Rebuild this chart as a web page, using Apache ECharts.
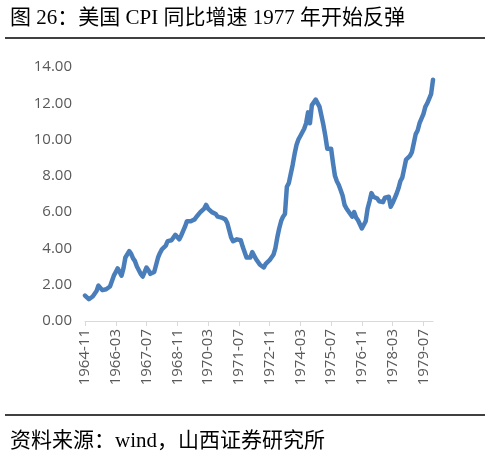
<!DOCTYPE html>
<html>
<head>
<meta charset="utf-8">
<script src="https://cdn.jsdelivr.net/npm/echarts@6/dist/echarts.min.js"></script>
<style>
  html, body { margin: 0; padding: 0; background: #fff; }
  #chart { width: 485px; height: 455px; }
</style>
</head>
<body>
<div id="chart"></div>
<script>
// 月份 1964-11 ~ 1979-12
var months = [];
(function () {
  var y = 1964, m = 11;
  while (y < 1980) {
    months.push(y + '-' + (m < 10 ? '0' + m : m));
    m++;
    if (m > 12) { m = 1; y++; }
  }
})();

// 美国CPI同比(%)，按年份分组，读图估计
var cpi1964 = [1.4, 1.3];
var cpi1965 = [1.2, 1.25, 1.35, 1.5, 1.65, 1.95, 1.85, 1.7, 1.7, 1.75, 1.8, 1.9];
var cpi1966 = [2.0, 2.5, 2.7, 2.9, 2.8, 2.5, 2.9, 3.5, 3.6, 3.85, 3.7, 3.45];
var cpi1967 = [3.3, 3.0, 2.8, 2.6, 2.45, 2.7, 2.95, 2.8, 2.6, 2.65, 2.7, 3.1];
var cpi1968 = [3.5, 3.75, 3.95, 4.0, 4.15, 4.4, 4.5, 4.45, 4.6, 4.75, 4.7, 4.5];
var cpi1969 = [4.7, 4.8, 5.2, 5.5, 5.55, 5.5, 5.45, 5.6, 5.75, 5.8, 6.0, 6.1];
var cpi1970 = [6.2, 6.4, 6.2, 6.1, 6.0, 6.0, 5.9, 5.75, 5.7, 5.7, 5.65, 5.6];
var cpi1971 = [5.4, 5.0, 4.6, 4.4, 4.45, 4.5, 4.5, 4.45, 4.1, 3.8, 3.5, 3.4];
var cpi1972 = [3.5, 3.8, 3.6, 3.4, 3.3, 3.1, 3.0, 2.95, 3.15, 3.2, 3.35, 3.45];
var cpi1973 = [3.65, 4.0, 4.6, 5.1, 5.5, 5.75, 5.9, 7.4, 7.6, 8.1, 8.6, 9.2];
var cpi1974 = [9.7, 10.0, 10.2, 10.2, 10.6, 10.9, 11.5, 10.9, 11.9, 12.0, 12.2, 12.1];
var cpi1975 = [11.8, 11.3, 10.8, 10.2, 9.5, 9.4, 9.5, 8.7, 8.0, 7.7, 7.5, 7.2];
var cpi1976 = [6.9, 6.4, 6.2, 6.1, 5.9, 5.75, 6.0, 5.7, 5.55, 5.5, 5.1, 5.0];
var cpi1977 = [5.5, 6.2, 6.6, 7.05, 6.85, 6.8, 6.75, 6.6, 6.5, 6.55, 6.8, 6.7];
var cpi1978 = [6.85, 6.3, 6.5, 6.6, 7.0, 7.3, 7.7, 7.9, 8.4, 8.9, 9.0, 9.1];
var cpi1979 = [9.3, 9.8, 10.3, 10.5, 10.9, 11.0, 11.4, 11.8, 12.0, 12.1, 12.5, 13.3];

var cpiYoy = [].concat(cpi1964, cpi1965, cpi1966, cpi1967, cpi1968, cpi1969, cpi1970,
  cpi1971, cpi1972, cpi1973, cpi1974, cpi1975, cpi1976, cpi1977, cpi1978, cpi1979);

var yTicks = [0, 2, 4, 6, 8, 10, 12, 14];

var myChart = echarts.init(document.getElementById('chart'));
var cnFont = "'Liberation Serif', 'Noto Sans CJK SC', serif";
var option = {
  animation: false,
  backgroundColor: '#fff',
  title: [{
    text: '图 26：美国 CPI 同比增速 1977 年开始反弹',
    left: 5,
    top: 3,
    textStyle: { fontFamily: cnFont, fontSize: 21, fontWeight: 'normal', color: '#000' }
  }, {
    text: '资料来源：wind，山西证券研究所',
    left: 5,
    top: 426,
    textStyle: { fontFamily: cnFont, fontSize: 21, fontWeight: 'normal', color: '#000' }
  }],
  graphic: [
    { type: 'line', shape: { x1: 5, y1: 38, x2: 485, y2: 38 }, style: { stroke: '#000', lineWidth: 1.5 } },
    { type: 'line', shape: { x1: 5, y1: 415, x2: 485, y2: 415 }, style: { stroke: '#000', lineWidth: 1.5 } }
  ],
  grid: { left: 85, right: 52, top: 67, bottom: 134 },
  xAxis: {
    type: 'category',
    data: months,
    boundaryGap: false,
    axisLine: { lineStyle: { color: '#d9d9d9', width: 1 } },
    axisTick: { interval: 15, length: 5, lineStyle: { color: '#d9d9d9' } },
    axisLabel: {
      interval: 15,
      rotate: 90,
      margin: 8,
      color: '#595959',
      fontFamily: 'Open Sans',
      fontSize: 15
    }
  },
  yAxis: {
    type: 'value',
    min: yTicks[0],
    max: yTicks[yTicks.length - 1],
    interval: 2,
    axisLine: { show: false },
    axisTick: { show: false },
    splitLine: { show: false },
    axisLabel: {
      margin: 13,
      color: '#595959',
      fontFamily: 'Open Sans',
      fontSize: 15,
      formatter: function (v) { return v.toFixed(2); }
    }
  },
  series: [{
    type: 'line',
    data: cpiYoy,
    symbol: 'none',
    lineStyle: { color: '#4a7ebb', width: 4.5, cap: 'round', join: 'round' }
  }]
};
myChart.setOption(option);
</script>
</body>
</html>
